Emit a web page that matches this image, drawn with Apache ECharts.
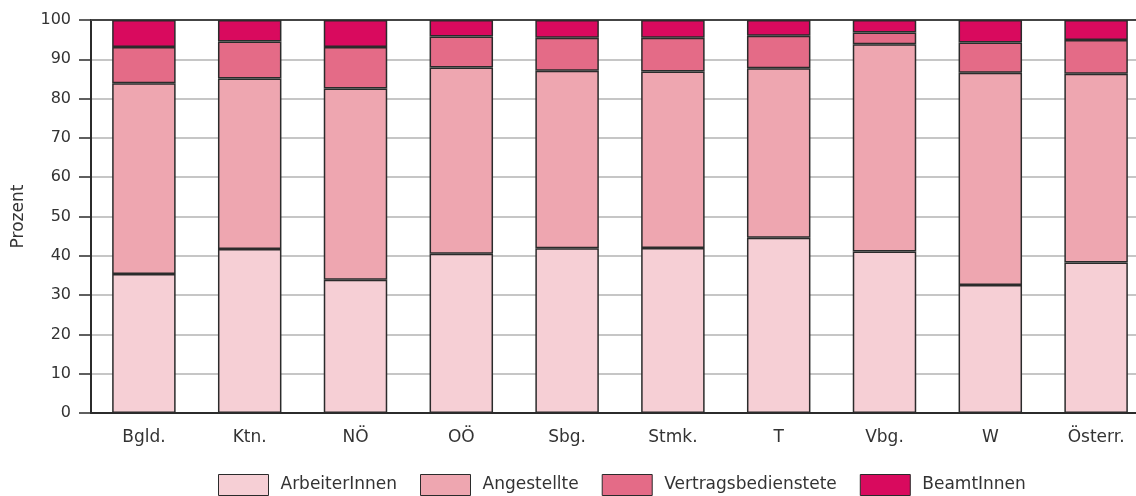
<!DOCTYPE html>
<html>
<head>
<meta charset="utf-8">
<script src="https://cdn.jsdelivr.net/npm/echarts@6/dist/echarts.min.js"></script>
<style>html,body{margin:0;padding:0;background:#fff;}#c{width:1136px;height:496px;}</style>
</head>
<body>
<div id="c"></div>
<script>
const categories = ['Bgld.', 'Ktn.', 'NÖ', 'OÖ', 'Sbg.', 'Stmk.', 'T', 'Vbg.', 'W', 'Österr.'];
const seriesNames = ['ArbeiterInnen', 'Angestellte', 'Vertragsbedienstete', 'BeamtInnen'];
const arbeiter = [35.4, 41.7, 33.9, 40.5, 41.9, 42.0, 44.6, 41.1, 32.6, 38.3];
const angestellte = [48.5, 43.4, 48.7, 47.4, 45.2, 44.9, 43.1, 52.7, 54.0, 48.0];
const vertrags = [9.2, 9.4, 10.5, 7.9, 8.4, 8.6, 8.3, 3.0, 7.7, 8.6];
const beamte = [6.9, 5.5, 6.9, 4.2, 4.5, 4.5, 4.0, 3.2, 5.7, 5.1];
const yTicks = [0, 10, 20, 30, 40, 50, 60, 70, 80, 90, 100];

const colors = ['#f6cfd5', '#eea6b0', '#e46b87', '#d90a5e'];
const values = [arbeiter, angestellte, vertrags, beamte];
const font = 'DejaVu Sans';

const chart = echarts.init(document.getElementById('c'), null, {renderer: 'canvas'});
chart.setOption({
  animation: false,
  textStyle: {fontFamily: font},
  grid: {left: 91, top: 20, height: 393, width: 1058, containLabel: false, outerBoundsMode: 'none'},
  legend: {
    left: 218, top: 474, padding: 0,
    itemWidth: 50, itemHeight: 21, itemGap: 23,
    icon: 'rect',
    data: seriesNames,
    textStyle: {fontFamily: font, fontSize: 17, color: '#333', padding: [0, 0, 0, 7]},
    itemStyle: {borderColor: '#2b2b2b', borderWidth: 1}
  },
  xAxis: [{
    type: 'category', data: categories, position: 'bottom',
    axisLine: {lineStyle: {color: '#2b2b2b', width: 2}},
    axisTick: {show: false},
    axisLabel: {fontFamily: font, fontSize: 17, color: '#333', margin: 16}
  }, {
    type: 'category', data: categories, position: 'top',
    axisLine: {lineStyle: {color: '#444', width: 2}},
    axisTick: {show: false}, axisLabel: {show: false}
  }],
  yAxis: {
    type: 'value', min: 0, max: 100, interval: 10,
    name: 'Prozent', nameLocation: 'middle', nameGap: 64, nameRotate: 90,
    nameTextStyle: {fontFamily: font, fontSize: 17, color: '#333'},
    axisLine: {show: true, lineStyle: {color: '#2b2b2b', width: 2}},
    axisTick: {show: true, length: 12, lineStyle: {color: '#2b2b2b', width: 1.5}},
    axisLabel: {fontFamily: font, fontSize: 16, color: '#333', margin: 20,
      formatter: v => yTicks.includes(v) ? String(v) : ''},
    splitLine: {lineStyle: {color: '#c6c6c6', width: 2}}
  },
  series: seriesNames.map((n, i) => ({
    name: n, type: 'bar', stack: 'total', data: values[i],
    barCategoryGap: '40%',
    itemStyle: {color: colors[i], borderColor: '#2b2b2b', borderWidth: 1.5}
  }))
});
</script>
</body>
</html>
